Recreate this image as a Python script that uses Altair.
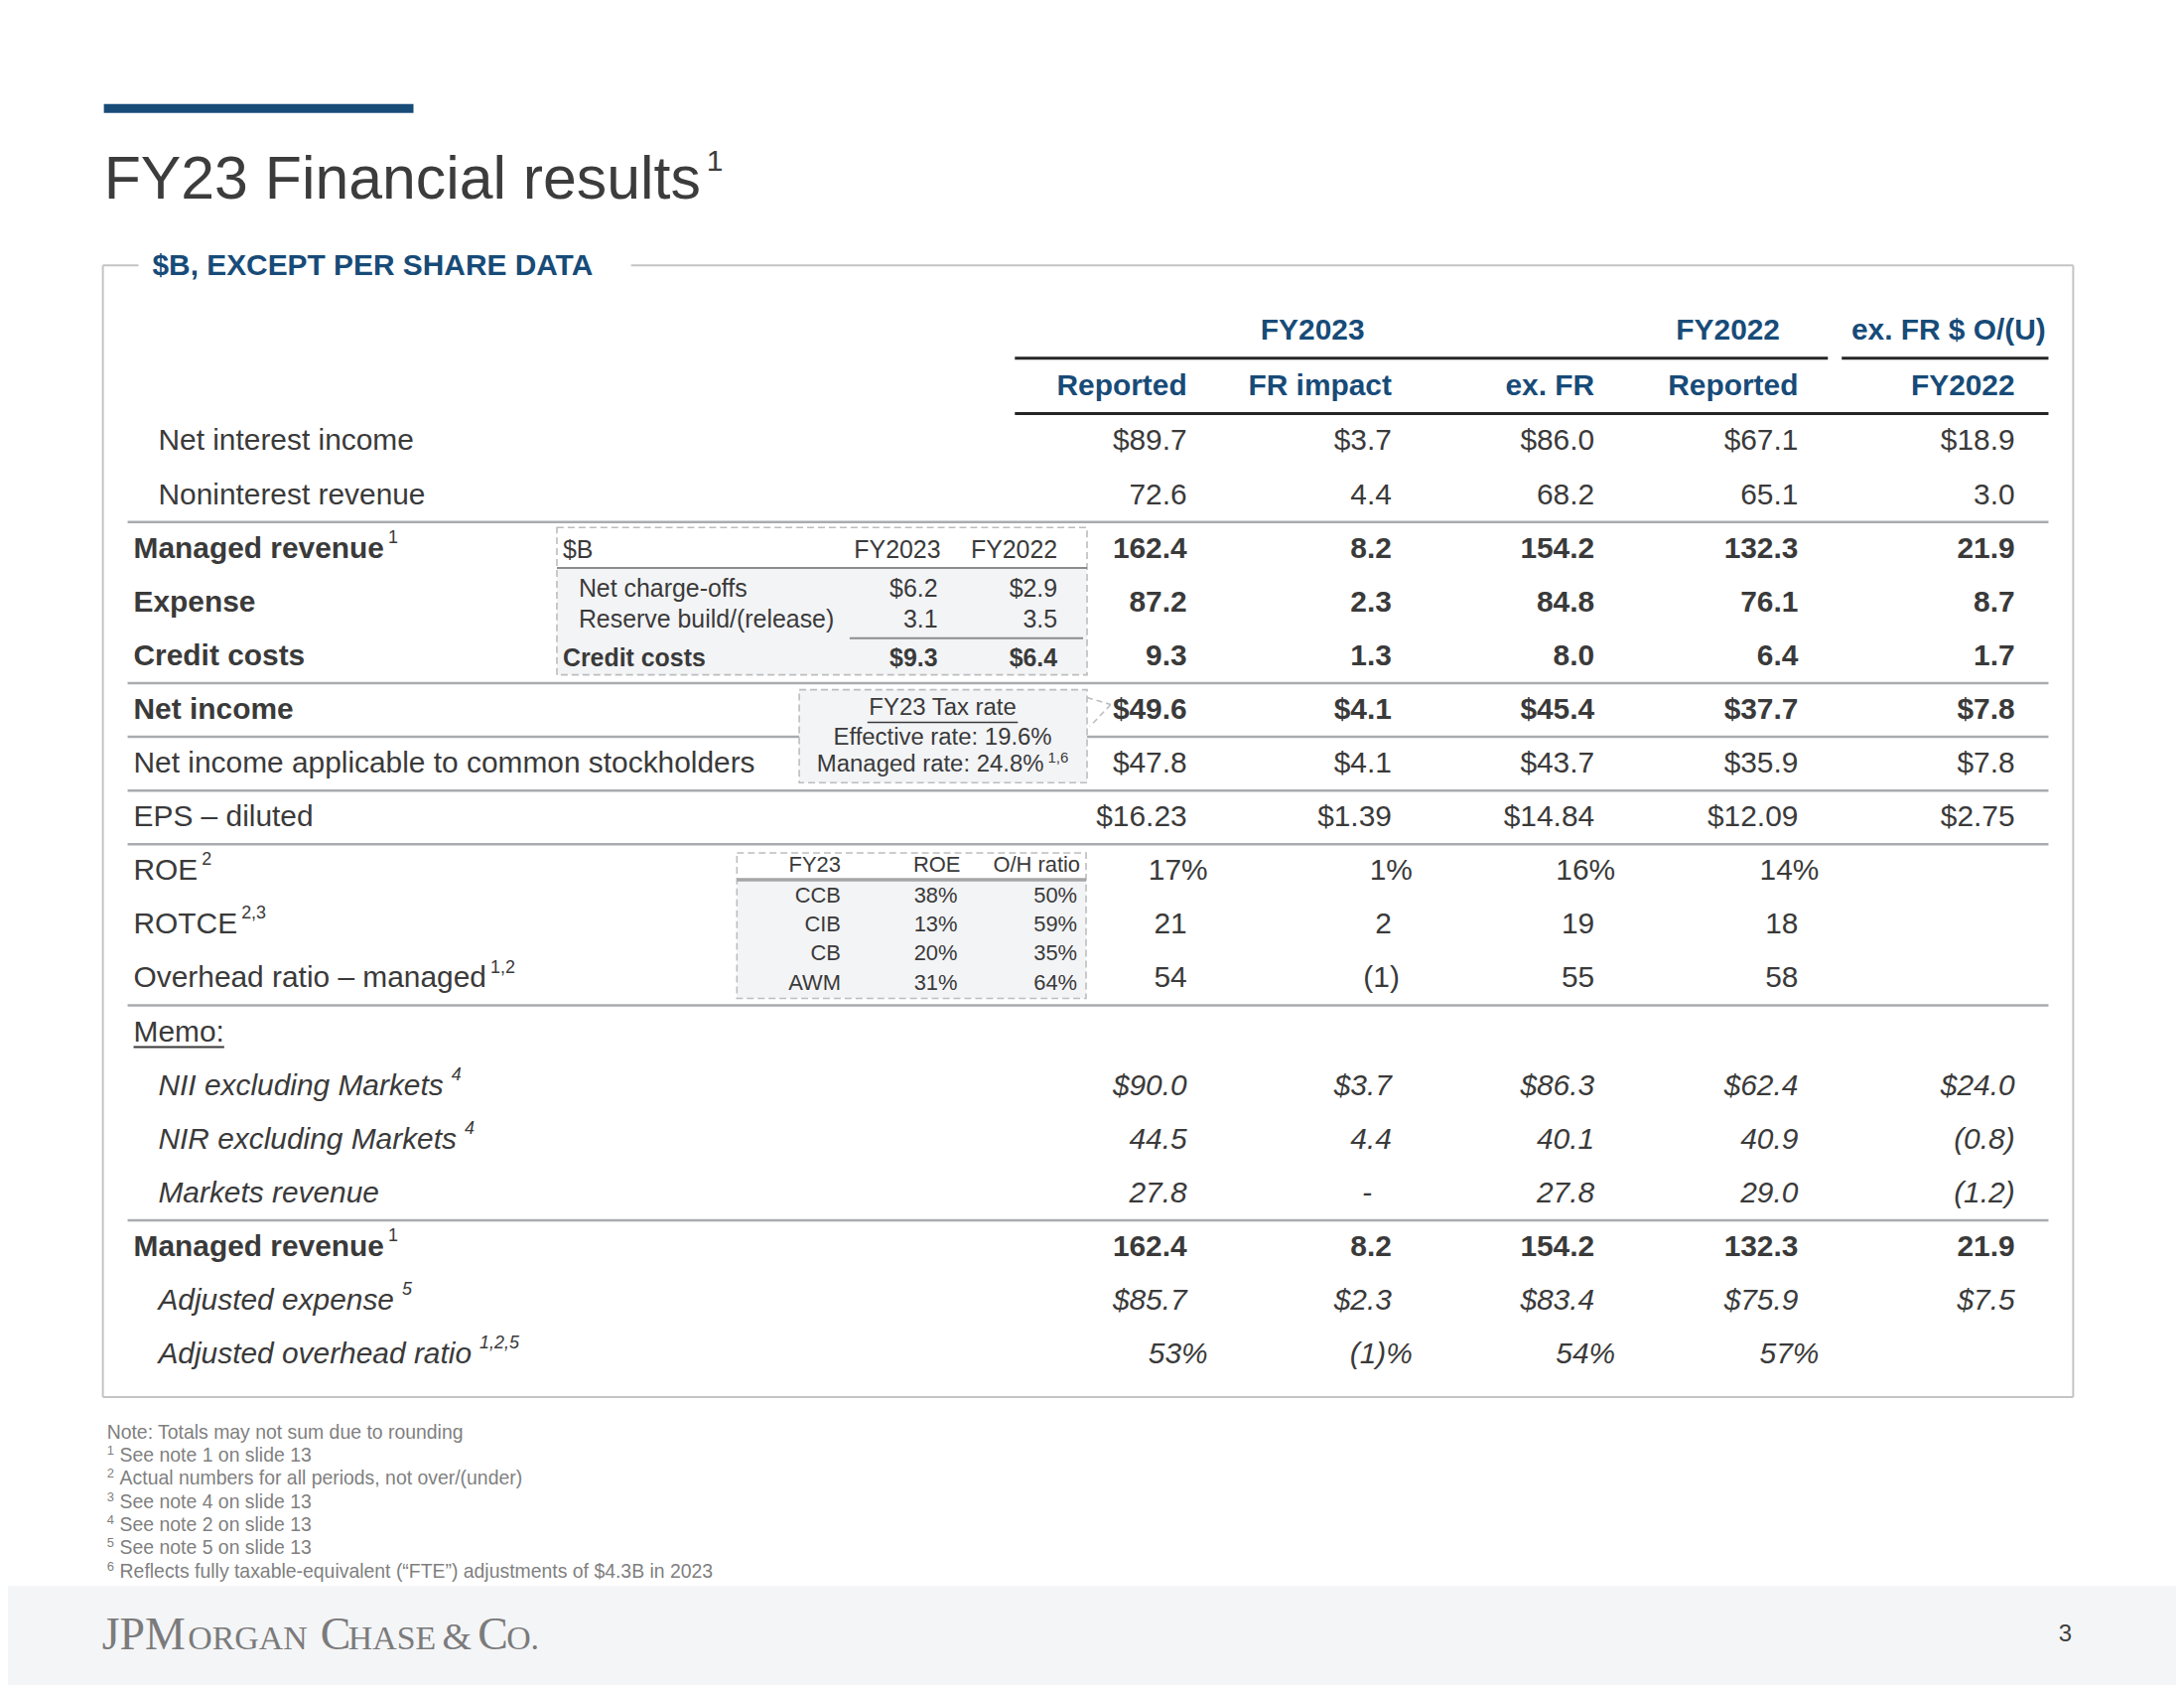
import altair as alt
import pandas as pd

# ------------------------------------------------------------------ data
title_text = "FY23 Financial results"
title_note = "1"
subtitle_text = "$B, EXCEPT PER SHARE DATA"

group_headers = ["FY2023", "FY2022", "ex. FR $ O/(U)"]
column_headers = ["Reported", "FR impact", "ex. FR", "Reported", "FY2022"]

row_labels = [
    "Net interest income", "Noninterest revenue", "Managed revenue", "Expense",
    "Credit costs", "Net income", "Net income applicable to common stockholders",
    "EPS – diluted", "ROE", "ROTCE", "Overhead ratio – managed", "Memo:",
    "NII excluding Markets", "NIR excluding Markets", "Markets revenue",
    "Managed revenue", "Adjusted expense", "Adjusted overhead ratio",
]
row_notes = ["", "", "1", "", "", "", "", "", "2", "2,3", "1,2", "",
             "4", "4", "", "1", "5", "1,2,5"]
row_style = ["regular", "regular", "bold", "bold", "bold", "bold", "regular", "regular",
             "regular", "regular", "regular", "regular", "italic", "italic", "italic",
             "bold", "italic", "italic"]
row_indent = [1, 1, 0, 0, 0, 0, 0, 0, 0, 0, 0, 0, 1, 1, 1, 0, 1, 1]

fy2023_reported = ["$89.7", "72.6", "162.4", "87.2", "9.3", "$49.6", "$47.8", "$16.23",
                   "17%", "21", "54", "", "$90.0", "44.5", "27.8", "162.4", "$85.7", "53%"]
fy2023_fr_impact = ["$3.7", "4.4", "8.2", "2.3", "1.3", "$4.1", "$4.1", "$1.39",
                    "1%", "2", "(1)", "", "$3.7", "4.4", "-", "8.2", "$2.3", "(1)%"]
fy2023_ex_fr = ["$86.0", "68.2", "154.2", "84.8", "8.0", "$45.4", "$43.7", "$14.84",
                "16%", "19", "55", "", "$86.3", "40.1", "27.8", "154.2", "$83.4", "54%"]
fy2022_reported = ["$67.1", "65.1", "132.3", "76.1", "6.4", "$37.7", "$35.9", "$12.09",
                   "14%", "18", "58", "", "$62.4", "40.9", "29.0", "132.3", "$75.9", "57%"]
ex_fr_ofu_fy2022 = ["$18.9", "3.0", "21.9", "8.7", "1.7", "$7.8", "$7.8", "$2.75",
                    "", "", "", "", "$24.0", "(0.8)", "(1.2)", "21.9", "$7.5", ""]

credit_header = ["$B", "FY2023", "FY2022"]
credit_items = ["Net charge-offs", "Reserve build/(release)", "Credit costs"]
credit_fy2023 = ["$6.2", "3.1", "$9.3"]
credit_fy2022 = ["$2.9", "3.5", "$6.4"]

tax_title = "FY23 Tax rate"
tax_effective = "Effective rate: 19.6%"
tax_managed = "Managed rate: 24.8%"
tax_note = "1,6"

lob_header = ["FY23", "ROE", "O/H ratio"]
lob_names = ["CCB", "CIB", "CB", "AWM"]
lob_roe = ["38%", "13%", "20%", "31%"]
lob_oh_ratio = ["50%", "59%", "35%", "64%"]

footnote_marks = ["", "1", "2", "3", "4", "5", "6"]
footnote_texts = [
    "Note: Totals may not sum due to rounding",
    "See note 1 on slide 13",
    "Actual numbers for all periods, not over/(under)",
    "See note 4 on slide 13",
    "See note 2 on slide 13",
    "See note 5 on slide 13",
    "Reflects fully taxable-equivalent (\u201cFTE\u201d) adjustments of $4.3B in 2023",
]
logo_parts = ["JPM", "ORGAN", "C", "HASE", "&", "C", "O."]
logo_kind = ["cap", "small", "cap", "small", "amp", "cap", "small"]
page_number = "3"

# ------------------------------------------------------------------ style / layout
FONT = "Liberation Sans, Arial, Helvetica, sans-serif"
SERIF = "Liberation Serif, Times New Roman, serif"
BLUE = "#174B78"
TXT = "#3A3A3A"
GRID = "#A9ABAE"
FRAME = "#C4C4C4"
FILL = "#F3F4F6"
FOOT_BG = "#F4F5F7"
DASH = "#BDBDBD"
LOGO = "#7B7B7B"

W, H = 2192, 1692
ROW_Y0, ROW_STEP = 443, 54.3
COL_RIGHT = [1200, 1407, 1612, 1818, 2037]
LABEL_X = [135, 160]
FS = 30

W_REG = {' ': 278, '!': 278, '$': 556, '%': 889, '&': 667, '(': 333, ')': 333, ',': 278,
         '-': 333, '.': 278, '/': 278, ':': 278, '\u2013': 556}
W_BOLD = dict(W_REG)
W_BOLD.update({':': 333})
for d in "0123456789":
    W_REG[d] = 556
    W_BOLD[d] = 556
W_REG.update(dict(zip("ABCDEFGHIJKLMNOPQRSTUVWXYZ",
    [667, 667, 722, 722, 667, 611, 778, 722, 278, 500, 667, 556, 833, 722, 778, 667,
     778, 722, 667, 611, 722, 667, 944, 667, 667, 611])))
W_REG.update(dict(zip("abcdefghijklmnopqrstuvwxyz",
    [556, 556, 500, 556, 556, 278, 556, 556, 222, 222, 500, 222, 833, 556, 556, 556,
     556, 333, 500, 278, 556, 500, 722, 500, 500, 500])))
W_BOLD.update(dict(zip("ABCDEFGHIJKLMNOPQRSTUVWXYZ",
    [722, 722, 722, 722, 667, 611, 778, 722, 278, 556, 722, 611, 833, 722, 778, 667,
     778, 722, 667, 611, 722, 667, 944, 667, 667, 611])))
W_BOLD.update(dict(zip("abcdefghijklmnopqrstuvwxyz",
    [556, 611, 556, 611, 556, 333, 611, 611, 278, 278, 556, 278, 889, 611, 611, 611,
     611, 389, 556, 333, 611, 556, 778, 556, 556, 500])))


def text_width(s, size, bold=False):
    table = W_BOLD if bold else W_REG
    return sum(table.get(c, 556) for c in s) * size / 1000.0


XS = alt.Scale(domain=[8, 2200], nice=False, zero=False)
YS = alt.Scale(domain=[8, 1700], nice=False, zero=False, reverse=True)


def enc_xy(ch):
    return ch.encode(x=alt.X("x:Q", scale=XS, axis=None),
                     y=alt.Y("y:Q", scale=YS, axis=None))


def texts(rows, size, color=TXT, align="left", weight="normal", style="normal",
          baseline="middle", font=FONT):
    df = pd.DataFrame(rows, columns=["x", "y", "t"])
    ch = alt.Chart(df).mark_text(align=align, baseline=baseline, fontSize=size,
                                 fontWeight=weight, fontStyle=style, color=color, font=font)
    return enc_xy(ch).encode(text=alt.Text("t:N"))


def rules(rows, color, width, dash=None):
    df = pd.DataFrame(rows, columns=["x", "x2", "y", "y2"])
    kw = dict(color=color, strokeWidth=width)
    if dash:
        kw["strokeDash"] = dash
    return alt.Chart(df).mark_rule(**kw).encode(
        x=alt.X("x:Q", scale=XS, axis=None), x2="x2:Q",
        y=alt.Y("y:Q", scale=YS, axis=None), y2="y2:Q")


def rects(rows, filled=True, color=None, dash=None):
    df = pd.DataFrame(rows, columns=["x", "x2", "y", "y2", "c"])
    if filled:
        mk = alt.Chart(df).mark_rect(strokeWidth=0)
        return mk.encode(x=alt.X("x:Q", scale=XS, axis=None), x2="x2:Q",
                         y=alt.Y("y:Q", scale=YS, axis=None), y2="y2:Q",
                         color=alt.Color("c:N", scale=None))
    mk = alt.Chart(df).mark_rect(filled=False, stroke=color, strokeWidth=1.6, strokeDash=dash)
    return mk.encode(x=alt.X("x:Q", scale=XS, axis=None), x2="x2:Q",
                     y=alt.Y("y:Q", scale=YS, axis=None), y2="y2:Q")


def hang(t):
    if t.endswith("%"):
        return 21
    if t.startswith("(") and t.endswith(")") and "." not in t:
        return 8
    if t == "-":
        return -20
    return 0


layers = []

# ---- separator lines (under inset boxes)
row_y = [ROW_Y0 + i * ROW_STEP for i in range(len(row_labels))]
sep_after = [1, 4, 5, 6, 7, 10, 14]
sep_rows = [(129, 2071, (row_y[i] + row_y[i + 1]) / 2, (row_y[i] + row_y[i + 1]) / 2)
            for i in sep_after]
layers.append(rules(sep_rows, GRID, 2.5))

# ---- filled shapes
layers.append(rects([
    (8, 2200, 1600, 1700, FOOT_BG),
    (105, 418, 102, 111, BLUE),
    (563, 1099, 571, 679, FILL),
    (808, 1099, 694, 788, FILL),
    (745, 1098, 886, 1006, FILL),
]))
# dashed inset outlines
layers.append(rects([(563, 1099, 530, 679, ""), (808, 1099, 694, 788, ""),
                     (745, 1098, 859, 1006, "")], filled=False, color=DASH, dash=[7, 4]))
layers.append(rules([(1099, 1123, 702, 709), (1123, 1102, 709, 731)], DASH, 1.6, [6, 4]))

# ---- frame around the table
layers.append(rules([(104, 140, 265, 265), (638, 2096, 265, 265), (104, 104, 265, 1409),
                     (2096, 2096, 265, 1409), (104, 2096, 1409, 1409)], FRAME, 2))
# header rules
layers.append(rules([(1026, 1848, 359, 359), (1862, 2071, 359, 359),
                     (1026, 2071, 415, 415)], "#262626", 3))
# inset rules
layers.append(rules([(563, 1099, 571, 571), (859, 1095, 642, 642)], "#8C8C8C", 2))
layers.append(rules([(745, 1098, 886, 886)], "#A6A6A6", 3.5))

# ---- title & subtitle
layers.append(texts([(105, 198, title_text)], 61, color="#3C3C3C", baseline="alphabetic"))
layers.append(texts([(105 + text_width(title_text, 61) + 6, 160, title_note)], 30,
                    color="#3C3C3C"))
layers.append(texts([(154, 266, subtitle_text)], 30, color=BLUE, weight="bold"))

# ---- column headers
layers.append(texts(list(zip([1327, 1747, 1970], [331] * 3, group_headers)), FS,
                    color=BLUE, weight="bold", align="center"))
layers.append(texts(list(zip(COL_RIGHT, [387] * 5, column_headers)), FS,
                    color=BLUE, weight="bold", align="right"))

# ---- row labels + superscripts + values
columns = [fy2023_reported, fy2023_fr_impact, fy2023_ex_fr, fy2022_reported, ex_fr_ofu_fy2022]
for st in ["regular", "bold", "italic"]:
    weight = "bold" if st == "bold" else "normal"
    fstyle = "italic" if st == "italic" else "normal"
    lab = [(LABEL_X[row_indent[i]], row_y[i], row_labels[i])
           for i in range(len(row_labels)) if row_style[i] == st]
    layers.append(texts(lab, FS, weight=weight, style=fstyle))
    sup = []
    for i in range(len(row_labels)):
        if row_style[i] == st and row_notes[i]:
            extra = 8 if st == "italic" else 4
            xx = LABEL_X[row_indent[i]] + text_width(row_labels[i], FS, st == "bold") + extra
            sup.append((xx, row_y[i] - 11, row_notes[i]))
    if sup:
        layers.append(texts(sup, 18, style=fstyle))
    vals = []
    for j, col in enumerate(columns):
        for i, v in enumerate(col):
            if v and row_style[i] == st:
                vals.append((COL_RIGHT[j] + hang(v), row_y[i], v))
    layers.append(texts(vals, FS, weight=weight, style=fstyle, align="right"))

memo_i = row_labels.index("Memo:")
layers.append(rules([(135, 135 + text_width("Memo:", FS), row_y[memo_i] + 15,
                      row_y[memo_i] + 15)], "#3A3A3A", 2))

# ---- credit costs inset
CS = 25
layers.append(texts([(569, 553, credit_header[0])], CS))
layers.append(texts([(951, 553, credit_header[1]), (1069, 553, credit_header[2])], CS,
                    align="right"))
cy = [592, 623, 662]
layers.append(texts([(585, cy[0], credit_items[0]), (585, cy[1], credit_items[1])], CS))
layers.append(texts([(948, cy[0], credit_fy2023[0]), (948, cy[1], credit_fy2023[1]),
                     (1069, cy[0], credit_fy2022[0]), (1069, cy[1], credit_fy2022[1])], CS,
                    align="right"))
layers.append(texts([(569, cy[2], credit_items[2])], CS, weight="bold"))
layers.append(texts([(948, cy[2], credit_fy2023[2]), (1069, cy[2], credit_fy2022[2])], CS,
                    weight="bold", align="right"))

# ---- tax rate inset
layers.append(texts([(953, 713, tax_title), (953, 743, tax_effective)], 24, align="center"))
tw = text_width(tax_title, 24)
layers.append(rules([(953 - tw / 2, 953 + tw / 2, 727, 727)], "#3A3A3A", 1.5))
mw = text_width(tax_managed, 24) + 4 + text_width(tax_note, 15)
mx = 953 - mw / 2
layers.append(texts([(mx, 770, tax_managed)], 24))
layers.append(texts([(mx + text_width(tax_managed, 24) + 4, 763, tax_note)], 15))

# ---- ROE / overhead inset
layers.append(texts(list(zip([850, 971, 1092], [871] * 3, lob_header)), 22, align="right"))
ly = [902 + k * 29.4 for k in range(len(lob_names))]
lob_rows = ([(850, y, t) for y, t in zip(ly, lob_names)] +
            [(968, y, t) for y, t in zip(ly, lob_roe)] +
            [(1089, y, t) for y, t in zip(ly, lob_oh_ratio)])
layers.append(texts(lob_rows, 22, align="right"))

# ---- footnotes
fy = [1445 + k * 23.4 for k in range(len(footnote_texts))]
layers.append(texts([(121 if m else 108, y, t) for y, t, m in
                     zip(fy, footnote_texts, footnote_marks)], 19.5, color="#7F7F7F"))
layers.append(texts([(108, y - 5, m) for y, m in zip(fy, footnote_marks) if m], 13,
                    color="#7F7F7F"))

# ---- logo & page number
logo_x = [103, 190, 324, 352, 447, 483, 512]
logo_size = {"cap": 46, "small": 34, "amp": 38}
for kind, size in logo_size.items():
    layers.append(texts([(x, 1664, t) for x, t, k in zip(logo_x, logo_parts, logo_kind)
                         if k == kind], size, color=LOGO, baseline="alphabetic", font=SERIF))
layers.append(texts([(2088, 1649, page_number)], 24, color="#404040", align="center"))

chart = alt.layer(*layers).properties(
    width=W, height=H, padding=0,
    autosize=alt.AutoSizeParams(type="none"),
    background="white",
).configure_view(stroke=None)

chart.save("out.html", embed_options={"renderer": "svg", "actions": False})
